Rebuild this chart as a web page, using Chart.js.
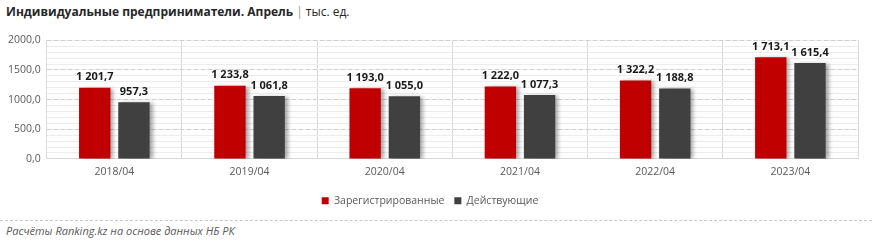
<!DOCTYPE html>
<html>
<head>
<meta charset="utf-8">
<script src="https://cdn.jsdelivr.net/npm/chart.js@4"></script>
<style>
  body { margin: 0; width: 872px; height: 241px; background: #fff; font-family: "Open Sans", sans-serif; position: relative; overflow: hidden; }
  .title { position: absolute; left: 6px; top: 3px; font-size: 12px; color: #262626; white-space: nowrap; }
  .title b { font-weight: 700; }
  .title .sep { color: #999; margin: 0 3px; }
  .chart-box { position: absolute; left: 0; top: 28px; width: 872px; height: 190px; }
  .foot-line { position: absolute; left: 0; right: 0; top: 220px; border-top: 1px dashed #c8c8c8; }
  .source { position: absolute; left: 6px; top: 223px; font-size: 11px; font-style: italic; color: #595959; }
</style>
</head>
<body>
<div class="title"><b>Индивидуальные предприниматели. Апрель</b><span class="sep">|</span>тыс. ед.</div>
<div class="chart-box"><canvas id="ipChart"></canvas></div>
<div class="foot-line"></div>
<div class="source">Расчёты Ranking.kz на основе данных НБ РК</div>
<script>
const periods = ['2018/04', '2019/04', '2020/04', '2021/04', '2022/04', '2023/04'];
const registered = [1201.7, 1233.8, 1193.0, 1222.0, 1322.2, 1713.1];
const active = [957.3, 1061.8, 1055.0, 1077.3, 1188.8, 1615.4];
const seriesNames = ['Зарегистрированные', 'Действующие'];

const fmt = v => {
  const [i, d] = v.toFixed(1).split('.');
  return i.replace(/\B(?=(\d{3})+(?!\d))/g, ' ') + ',' + d;
};

// shadow to the right of bars + value labels
const barExtras = {
  id: 'barExtras',
  beforeDatasetsDraw(chart) {
    const c = chart.ctx;
    c.save();
    c.shadowColor = 'rgba(0,0,0,0.35)';
    c.shadowBlur = 4;
    c.shadowOffsetX = 3;
    c.shadowOffsetY = 1;
  },
  afterDatasetsDraw(chart) {
    const c = chart.ctx;
    c.restore();
    c.save();
    c.font = 'bold 11px "Open Sans", sans-serif';
    c.fillStyle = '#1a1a1a';
    c.textAlign = 'center';
    c.textBaseline = 'bottom';
    chart.data.datasets.forEach((ds, di) => {
      chart.getDatasetMeta(di).data.forEach((bar, i) => {
        c.fillText(fmt(ds.data[i]), bar.x, bar.y - 5);
      });
    });
    c.restore();
  }
};

const tickFont = { size: 10.5, family: '"Open Sans", sans-serif' };

new Chart(document.getElementById('ipChart').getContext('2d'), {
  type: 'bar',
  data: {
    labels: periods,
    datasets: [
      { label: seriesNames[0], data: registered, backgroundColor: '#c00000', categoryPercentage: 0.58, barPercentage: 0.8 },
      { label: seriesNames[1], data: active, backgroundColor: '#404040', categoryPercentage: 0.58, barPercentage: 0.8 },
    ],
  },
  options: {
    responsive: true, maintainAspectRatio: false,
    animation: false,
    layout: { padding: { left: 2, right: 14, top: 3, bottom: 2 } },
    plugins: {
      legend: {
        position: 'bottom',
        labels: { boxWidth: 7, boxHeight: 7, padding: 10, color: '#595959', font: tickFont },
      },
      tooltip: { enabled: false },
    },
    scales: {
      x: {
        grid: { color: '#d9d9d9', offset: true, drawTicks: false },
        border: { color: '#d9d9d9' },
        ticks: { color: '#595959', padding: 7, font: tickFont },
      },
      yMinor: {
        position: 'left',
        min: 0, max: 2000,
        grid: { color: '#ececec', drawTicks: false },
        border: { display: false },
        ticks: { stepSize: 100, display: false },
      },
      y: {
        position: 'left',
        min: 0, max: 2000,
        grid: { color: '#cfcfcf', drawTicks: false },
        border: { display: false, dash: [4, 3] },
        ticks: { stepSize: 500, color: '#595959', padding: 6, font: tickFont, callback: v => v.toFixed(1).replace('.', ',') },
      },
    },
  },
  plugins: [barExtras],
});
</script>
</body>
</html>
